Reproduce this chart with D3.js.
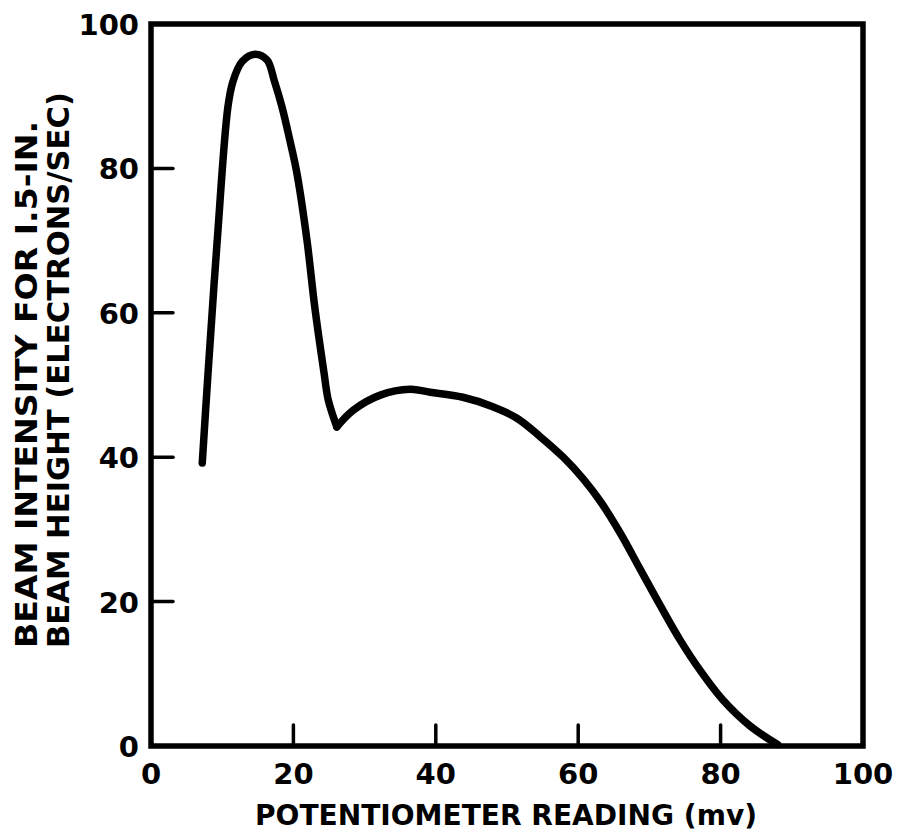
<!DOCTYPE html>
<html>
<head>
<meta charset="utf-8">
<script src="https://cdn.jsdelivr.net/npm/d3@7"></script>
<style>
  html, body { margin: 0; padding: 0; background: #fff; }
  svg { display: block; }
  text { font-family: "DejaVu Sans", "Liberation Sans", sans-serif; font-weight: bold; fill: #000; }
</style>
</head>
<body>
<svg id="chart" width="897" height="834"></svg>
<script>
// Beam intensity vs. potentiometer reading
const potentiometerMv = [7.2, 8.0, 9.3, 10.8, 11.5, 12.8, 14.6, 16.3, 17.3, 18.4, 19.5, 20.5, 21.9, 23.0, 24.3, 24.9, 26.1,
                         28.4, 32.2, 36.4, 39.2, 43.8, 48.0, 51.4, 54.6, 57.9, 60.7, 63.1, 65.9, 68.7, 71.5, 74.3,
                         77.1, 80.3, 84.1, 88.0];
const beamIntensity  = [39.2, 51.5, 70.0, 88.5, 92.0, 94.8, 95.8, 95.0, 92.2, 88.5, 83.9, 79.3, 70.1, 60.8, 51.7, 47.9, 44.2,
                        46.5, 48.6, 49.4, 49.0, 48.3, 47.0, 45.4, 42.9, 40.0, 37.0, 33.9, 29.5, 24.5, 19.5, 14.7,
                        10.5, 6.4, 2.8, 0.2];
const xTicks = [0, 20, 40, 60, 80, 100];
const yTicks = [0, 20, 40, 60, 80, 100];
const xTitle = "POTENTIOMETER READING (mv)";
const yTitleLines = ["BEAM INTENSITY FOR I.5-IN.", "BEAM HEIGHT (ELECTRONS/SEC)"];

const svg = d3.select("#chart");
const x = d3.scaleLinear().domain([0, 100]).range([151, 863]);
const y = d3.scaleLinear().domain([0, 100]).range([746, 24]);

const points = potentiometerMv.map((v, i) => [v, beamIntensity[i]]);

// Inward tick marks on the bottom and left edges (none at the frame corners)
const innerX = xTicks.filter(t => t > 0 && t < 100);
const innerY = yTicks.filter(t => t > 0 && t < 100);

svg.append("g").selectAll("line").data(innerX).join("line")
  .attr("x1", d => x(d)).attr("x2", d => x(d))
  .attr("y1", y(0)).attr("y2", y(0) - 21)
  .attr("stroke", "#000").attr("stroke-width", 3.5)
  .attr("stroke-linecap", "round");

svg.append("g").selectAll("line").data(innerY).join("line")
  .attr("y1", d => y(d)).attr("y2", d => y(d))
  .attr("x1", x(0)).attr("x2", x(0) + 22)
  .attr("stroke", "#000").attr("stroke-width", 3.5)
  .attr("stroke-linecap", "round");

// Frame
svg.append("rect")
  .attr("x", x(0)).attr("y", y(100))
  .attr("width", x(100) - x(0)).attr("height", y(0) - y(100))
  .attr("fill", "none").attr("stroke", "#000").attr("stroke-width", 5.5);

// Tick labels
svg.append("g").selectAll("text").data(xTicks).join("text")
  .attr("x", d => x(d)).attr("y", 784)
  .attr("text-anchor", "middle")
  .style("font-size", "29px")
  .text(d => d);

svg.append("g").selectAll("text").data(yTicks).join("text")
  .attr("x", 139).attr("y", d => y(d) + 11)
  .attr("text-anchor", "end")
  .style("font-size", "29px")
  .text(d => d);

// Axis titles
svg.append("text")
  .attr("x", 506).attr("y", 825)
  .attr("text-anchor", "middle")
  .attr("textLength", 502).attr("lengthAdjust", "spacingAndGlyphs")
  .style("font-size", "29px")
  .text(xTitle);

svg.append("g").selectAll("text").data(yTitleLines).join("text")
  .attr("transform", (d, i) => `translate(${[37, 69][i]},648) rotate(-90)`)
  .attr("text-anchor", "start")
  .attr("textLength", (d, i) => [527, 556][i]).attr("lengthAdjust", "spacingAndGlyphs")
  .style("font-size", "30px")
  .text(d => d);

// Curve: sharp rise to the peak, a cusp at the local minimum, then the broad hump
const line = d3.line().x(d => x(d[0])).y(d => y(d[1])).curve(d3.curveCatmullRom.alpha(0.5));
const lowIdx = potentiometerMv.map((v, i) => i).filter(i => potentiometerMv[i] > 20 && potentiometerMv[i] < 30);
const cusp = lowIdx.reduce((a, b) => (beamIntensity[b] < beamIntensity[a] ? b : a));
[points.slice(0, cusp + 1), points.slice(cusp)].forEach(seg => {
  svg.append("path")
    .datum(seg)
    .attr("d", line)
    .attr("fill", "none")
    .attr("stroke", "#000")
    .attr("stroke-width", 7.5)
    .attr("stroke-linecap", "round")
    .attr("stroke-linejoin", "round");
});
</script>
</body>
</html>
